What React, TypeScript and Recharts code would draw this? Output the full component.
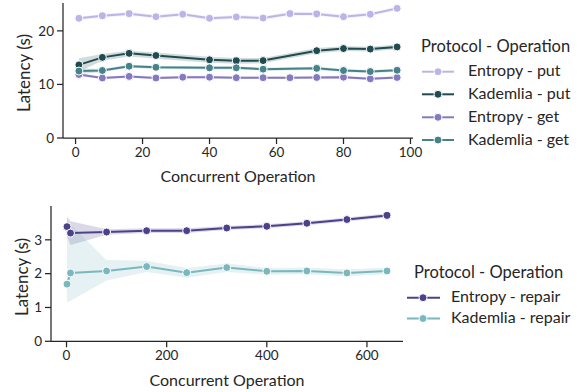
import React from 'react';
import { ComposedChart, Line, Area, XAxis, YAxis, Label } from 'recharts';

const FONT = 'Lato, "Noto Sans", sans-serif';
const INK = '#262626';

// ---- top chart data ----
const topX = [1, 8, 16, 24, 32, 40, 48, 56, 64, 72, 80, 88, 96];
const entropyPut = [22.35, 22.8, 23.2, 22.65, 23.1, 22.35, 22.6, 22.4, 23.2, 23.15, 22.65, 23.1, 24.2];
const entropyPutLow = [22.0, 22.45, 22.85, 22.3, 22.75, 22.0, 22.25, 22.05, 22.85, 22.8, 22.3, 22.75, 23.85];
const entropyPutHigh = [22.7, 23.15, 23.55, 23.0, 23.45, 22.7, 22.95, 22.75, 23.55, 23.5, 23.0, 23.45, 24.55];
const entropyGet = [11.85, 11.2, 11.5, 11.2, 11.35, 11.35, 11.25, 11.25, 11.25, 11.3, 11.35, 11.05, 11.3];
const entropyGetLow = [11.6, 10.95, 11.25, 10.95, 11.1, 11.1, 11.0, 11.0, 11.0, 11.05, 11.1, 10.8, 11.05];
const entropyGetHigh = [12.1, 11.45, 11.75, 11.45, 11.6, 11.6, 11.5, 11.5, 11.5, 11.55, 11.6, 11.3, 11.55];
const kademliaPut = [13.65, 15.05, 15.8, 15.4, null, 14.6, 14.4, 14.45, null, 16.3, 16.7, 16.6, 17.0];
const kademliaPutLow = [12.4, 14.4, 15.2, 14.8, null, 14.05, 13.85, 13.95, null, 15.8, 16.25, 16.15, 16.55];
const kademliaPutHigh = [14.9, 15.7, 16.3, 15.95, null, 15.15, 14.95, 14.95, null, 16.8, 17.15, 17.05, 17.45];
const kademliaGet = [12.5, 12.6, 13.4, 13.2, null, 13.1, 13.1, 12.85, null, 13.0, 12.6, 12.4, 12.65];
const kademliaGetLow = [11.9, 12.3, 13.1, 12.9, null, 12.8, 12.8, 12.55, null, 12.7, 12.3, 12.1, 12.35];
const kademliaGetHigh = [13.0, 12.9, 13.7, 13.5, null, 13.4, 13.4, 13.15, null, 13.3, 12.9, 12.7, 12.95];
const topXTicks = [0, 20, 40, 60, 80, 100];
const topYTicks = [0, 10, 20];

// ---- bottom chart data ----
const botX = [1, 8, 80, 160, 240, 320, 400, 480, 560, 640];
const entropyRepair = [3.39, 3.2, 3.23, 3.27, 3.27, 3.35, 3.4, 3.49, 3.6, 3.72];
const entropyRepairLow = [3.1, 2.85, 3.15, 3.2, 3.2, 3.29, 3.34, 3.43, 3.54, 3.66];
const entropyRepairHigh = [3.68, 3.55, 3.31, 3.34, 3.34, 3.41, 3.46, 3.55, 3.66, 3.78];
const kademliaRepair = [1.69, 2.02, 2.08, 2.21, 2.03, 2.18, 2.07, 2.08, 2.02, 2.08];
const kademliaRepairLow = [1.15, 1.2, 1.8, 2.05, 1.88, 2.05, 1.97, 1.98, 1.92, 1.98];
const kademliaRepairHigh = [3.6, 3.45, 2.4, 2.38, 2.17, 2.3, 2.17, 2.18, 2.12, 2.18];
const botXTicks = [0, 200, 400, 600];
const botYTicks = [0, 1, 2, 3];

const C_EP = '#bdb3e6';
const C_KP = '#1f4b51';
const C_EG = '#8579c2';
const C_KG = '#468389';
const C_ER = '#4c4289';
const C_KR = '#7bb8be';

const band = (lo: (number | null)[], hi: (number | null)[], i: number) =>
  lo[i] == null || hi[i] == null ? null : [lo[i], hi[i]];

const topData = topX.map((x, i) => ({
  x,
  ep: entropyPut[i],
  epB: band(entropyPutLow, entropyPutHigh, i),
  eg: entropyGet[i],
  egB: band(entropyGetLow, entropyGetHigh, i),
  kp: kademliaPut[i],
  kpB: band(kademliaPutLow, kademliaPutHigh, i),
  kg: kademliaGet[i],
  kgB: band(kademliaGetLow, kademliaGetHigh, i),
}));

const botData = botX.map((x, i) => ({
  x,
  er: entropyRepair[i],
  erB: band(entropyRepairLow, entropyRepairHigh, i),
  kr: kademliaRepair[i],
  krB: band(kademliaRepairLow, kademliaRepairHigh, i),
}));

const tickStyle = { fontSize: 13.5, fill: INK, fontFamily: FONT };
const axisLine = { stroke: INK, strokeWidth: 1.25 };

const dot = (c: string) => ({ r: 4, fill: c, stroke: '#fff', strokeWidth: 1 });

const series = (key: string, bkey: string, c: string) => [
  <Area
    key={bkey}
    dataKey={bkey}
    type="linear"
    stroke="none"
    fill={c}
    fillOpacity={0.2}
    connectNulls
    isAnimationActive={false}
    activeDot={false}
    dot={false}
  />,
  <Line
    key={key}
    dataKey={key}
    type="linear"
    stroke={c}
    strokeWidth={2}
    dot={dot(c)}
    activeDot={false}
    connectNulls
    isAnimationActive={false}
  />,
];

const legendTop = [
  { label: 'Entropy - put', c: C_EP, y: 71.7 },
  { label: 'Kademlia - put', c: C_KP, y: 94.3 },
  { label: 'Entropy - get', c: C_EG, y: 117.3 },
  { label: 'Kademlia - get', c: C_KG, y: 140 },
];
const legendBot = [
  { label: 'Entropy - repair', c: C_ER, y: 297.7 },
  { label: 'Kademlia - repair', c: C_KR, y: 318.5 },
];

export default function App() {
  return (
    <div style={{ position: 'absolute', left: 0, top: 0, width: 577, height: 392, background: '#fff', fontFamily: FONT }}>
      <div style={{ position: 'absolute', left: 0, top: 0 }}>
        <ComposedChart width={430} height={190} data={topData} margin={{ top: 3, right: 17, bottom: 0, left: 0 }}>
          <XAxis
            dataKey="x"
            type="number"
            domain={[-3.75, 100.75]}
            ticks={topXTicks}
            allowDataOverflow
            height={52}
            tick={tickStyle}
            tickSize={6}
            tickMargin={3}
            axisLine={axisLine}
            tickLine={axisLine}
          >
            <Label
              content={() => (
                <text x={238} y={182} textAnchor="middle" fontSize={16} fill={INK} fontFamily={FONT}>
                  Concurrent Operation
                </text>
              )}
            />
          </XAxis>
          <YAxis
            type="number"
            domain={[0, 25.2]}
            ticks={topYTicks}
            allowDataOverflow
            width={63}
            tick={tickStyle}
            tickSize={6}
            tickMargin={3}
            axisLine={axisLine}
            tickLine={axisLine}
          >
            <Label
              content={() => (
                <text
                  x={23}
                  y={73}
                  transform="rotate(-90, 23, 73)"
                  textAnchor="middle"
                  dominantBaseline="central"
                  fontSize={17}
                  fill={INK}
                  fontFamily={FONT}
                >
                  Latency (s)
                </text>
              )}
            />
          </YAxis>
          {series('ep', 'epB', C_EP)}
          {series('kp', 'kpB', C_KP)}
          {series('eg', 'egB', C_EG)}
          {series('kg', 'kgB', C_KG)}
        </ComposedChart>
      </div>
      <div style={{ position: 'absolute', left: 0, top: 200 }}>
        <ComposedChart width={410} height={192} data={botData} margin={{ top: 6, right: 7, bottom: 0, left: 0 }}>
          <XAxis
            dataKey="x"
            type="number"
            domain={[-31, 672]}
            ticks={botXTicks}
            allowDataOverflow
            height={50.7}
            tick={tickStyle}
            tickSize={6}
            tickMargin={3}
            axisLine={axisLine}
            tickLine={axisLine}
          >
            <Label
              content={() => (
                <text x={227} y={185.5} textAnchor="middle" fontSize={16} fill={INK} fontFamily={FONT}>
                  Concurrent Operation
                </text>
              )}
            />
          </XAxis>
          <YAxis
            type="number"
            domain={[0, 4.0]}
            ticks={botYTicks}
            allowDataOverflow
            width={51}
            tick={tickStyle}
            tickSize={6}
            tickMargin={3}
            axisLine={axisLine}
            tickLine={axisLine}
          >
            <Label
              content={() => (
                <text
                  x={21}
                  y={77}
                  transform="rotate(-90, 21, 77)"
                  textAnchor="middle"
                  dominantBaseline="central"
                  fontSize={17}
                  fill={INK}
                  fontFamily={FONT}
                >
                  Latency (s)
                </text>
              )}
            />
          </YAxis>
          {series('er', 'erB', C_ER)}
          {series('kr', 'krB', C_KR)}
        </ComposedChart>
      </div>
      <svg width={577} height={392} style={{ position: 'absolute', left: 0, top: 0, pointerEvents: 'none' }}>
        <text x={421} y={51.5} fontSize={16.5} fill={INK} fontFamily={FONT}>
          Protocol - Operation
        </text>
        {legendTop.map((e) => (
          <g key={e.label}>
            <line x1={422} x2={454} y1={e.y} y2={e.y} stroke={e.c} strokeWidth={2} />
            <circle cx={438} cy={e.y} r={4} fill={e.c} stroke="#fff" strokeWidth={1} />
            <text x={468} y={e.y + 4.5} fontSize={16} fill={INK} fontFamily={FONT}>
              {e.label}
            </text>
          </g>
        ))}
        <text x={414} y={277.5} fontSize={16.5} fill={INK} fontFamily={FONT}>
          Protocol - Operation
        </text>
        {legendBot.map((e) => (
          <g key={e.label}>
            <line x1={407} x2={440} y1={e.y} y2={e.y} stroke={e.c} strokeWidth={2} />
            <circle cx={423} cy={e.y} r={4} fill={e.c} stroke="#fff" strokeWidth={1} />
            <text x={451} y={e.y + 4.5} fontSize={16} fill={INK} fontFamily={FONT}>
              {e.label}
            </text>
          </g>
        ))}
      </svg>
    </div>
  );
}
